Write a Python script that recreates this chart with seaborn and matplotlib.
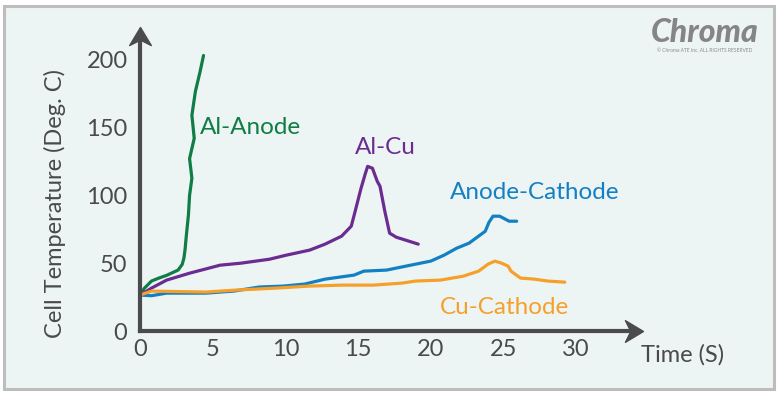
import numpy as np
import pandas as pd
import seaborn as sns
import matplotlib.pyplot as plt
from matplotlib.path import Path
from matplotlib.patches import Rectangle

# Curvas de temperatura (tiempo en s, temperatura en grados C)
al_anode_t = [0, 0.3, 0.79, 1.3, 1.83, 2.62, 2.9, 3.02, 3.1, 3.17, 3.33, 3.41, 3.57, 3.41, 3.73, 3.57, 3.81, 4.13, 4.37]
al_anode_temp = [26.5, 31.5, 36.8, 39.0, 41.0, 44.9, 49.0, 53.7, 60.0, 68.4, 85.3, 100.0, 112.5, 127.0, 142.0, 159.0, 176.5, 191.0, 203.0]

al_cu_t = [0, 0.4, 0.79, 1.83, 3.41, 5.51, 6.96, 8.91, 10.07, 11.67, 12.73, 13.87, 14.53, 14.73,
           15.2, 15.5, 15.66, 15.99, 16.32, 16.51, 16.84, 17.17, 17.63, 18.29, 19.14]
al_cu_temp = [26.5, 29.0, 31.6, 37.5, 42.6, 48.5, 50.0, 52.9, 55.9, 59.6, 64.0, 69.9, 77.2, 85.3,
              105.0, 116.0, 121.3, 119.9, 110.3, 106.6, 88.2, 72.1, 69.1, 66.9, 64.0]

anode_cathode_t = [0, 0.79, 1.83, 4.52, 6.45, 8.19, 9.86, 11.33, 12.73, 14.73, 15.39, 16.97,
                   18.29, 20.0, 20.92, 21.78, 22.63, 23.75, 24.0, 24.28, 24.74, 25.39, 25.91]
anode_cathode_temp = [26.5, 26.0, 27.9, 27.9, 29.4, 32.4, 33.1, 34.6, 38.2, 41.2, 44.1, 44.9,
                      47.8, 51.5, 55.9, 61.0, 64.7, 73.5, 80.0, 84.6, 84.6, 80.9, 80.9]

cu_cathode_t = [0, 0.79, 4.52, 6.52, 9.35, 11.67, 13.87, 16.05, 18.03, 18.95, 20.66, 22.24,
                23.29, 23.95, 24.41, 24.87, 25.32, 25.52, 26.17, 27.14, 28.05, 29.22]
cu_cathode_temp = [26.5, 29.4, 28.7, 30.1, 31.6, 33.1, 33.8, 33.8, 35.3, 36.8, 37.5, 40.4,
                   44.1, 49.3, 51.5, 50.0, 47.8, 44.1, 39.0, 38.2, 36.8, 36.0]

series_names = ["Al-Anode", "Al-Cu", "Anode-Cathode", "Cu-Cathode"]
series_colors = ["#0f7d45", "#6a2c91", "#1380c4", "#f6a02c"]
y_ticks = [0, 50, 100, 150, 200]
x_ticks = [0, 5, 10, 15, 20, 25, 30]

# Armamos un DataFrame largo para seaborn
frames = []
for name, t, temp in zip(series_names,
                         [al_anode_t, al_cu_t, anode_cathode_t, cu_cathode_t],
                         [al_anode_temp, al_cu_temp, anode_cathode_temp, cu_cathode_temp]):
    frames.append(pd.DataFrame({"t": t, "temp": temp, "serie": name}))
df = pd.concat(frames, ignore_index=True)

sns.set_theme(style="white")
plt.rcParams["font.family"] = ["Lato", "DejaVu Sans"]

bg = "#ecf5f3"
axis_color = "#4b4a4c"
text_color = "#4a4a4a"

fig = plt.figure(figsize=(7.8, 3.97), dpi=100)
fig.patch.set_facecolor("white")
fig.patches.append(Rectangle((4 / 780, 8 / 397), 770 / 780, 383 / 397, transform=fig.transFigure,
                             facecolor=bg, edgecolor="#bdbdbd", linewidth=2.2, zorder=-5))

ax = fig.add_axes([140 / 780, 66 / 397, 503 / 780, 304 / 397])
ax.set_facecolor("none")

palette = dict(zip(series_names, series_colors))
sns.lineplot(data=df, x="t", y="temp", hue="serie", units="serie", estimator=None, sort=False,
             palette=palette, linewidth=2.3, legend=False, ax=ax,
             solid_capstyle="round", solid_joinstyle="round")

ax.set_xlim(0, 34.6)
ax.set_ylim(0, 224)
ax.set_xticks(x_ticks)
ax.set_yticks(y_ticks)
ax.tick_params(axis="both", length=0, labelsize=17, colors=text_color)
ax.tick_params(axis="x", pad=6)
ax.tick_params(axis="y", pad=9)
ax.set_xlabel("")
ax.set_ylabel("")

for side in ["top", "right"]:
    ax.spines[side].set_visible(False)
for side in ["left", "bottom"]:
    ax.spines[side].set_color(axis_color)
    ax.spines[side].set_linewidth(3.0)
    ax.spines[side].set_capstyle("projecting")
ax.spines["left"].set_bounds(0, 215)
ax.spines["bottom"].set_bounds(0, 34.0)

# Puntas de flecha de los ejes
head_up = Path([(0, 0), (-0.6, -1), (0, -0.7), (0.6, -1), (0, 0)],
               [Path.MOVETO, Path.LINETO, Path.LINETO, Path.LINETO, Path.CLOSEPOLY])
head_right = Path([(0, 0), (-1, 0.6), (-0.7, 0), (-1, -0.6), (0, 0)],
                  [Path.MOVETO, Path.LINETO, Path.LINETO, Path.LINETO, Path.CLOSEPOLY])
ax.plot([0], [1], marker=head_up, markersize=26, color=axis_color, transform=ax.transAxes,
        clip_on=False, linestyle="none")
ax.plot([1], [0], marker=head_right, markersize=26, color=axis_color, transform=ax.transAxes,
        clip_on=False, linestyle="none")

# Etiquetas de cada curva
label_pos = [(0.219, 0.671), (0.487, 0.602), (0.785, 0.457), (0.724, 0.076)]
for name, color, (xf, yf) in zip(series_names, series_colors, label_pos):
    ax.text(xf, yf, name, transform=ax.transAxes, color=color, fontsize=17.5,
            ha="center", va="center")

fig.text(55 / 780, 1 - 204 / 397, "Cell Temperature (Deg. C)", rotation=90, ha="center",
         va="center", fontsize=17, color=text_color)
fig.text(683 / 780, 1 - 355 / 397, "Time (S)", ha="center", va="center", fontsize=17,
         color=text_color)

# Logo
fig.text(705 / 780, 1 - 32 / 397, "Chroma", ha="center", va="center", fontsize=23,
         fontweight="black", fontstyle="italic", color="#858585")
fig.text(705 / 780, 1 - 51 / 397, "© Chroma ATE Inc. ALL RIGHTS RESERVED", ha="center",
         va="center", fontsize=3.5, color="#8a8a8a")

fig.savefig("out.png", dpi=100, facecolor=fig.get_facecolor())
